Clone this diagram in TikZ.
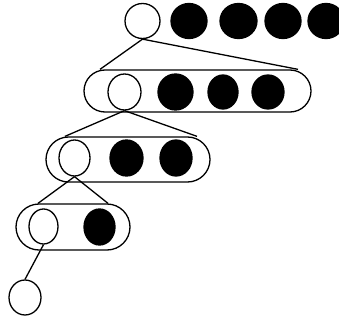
\documentclass[tikz,border=0pt]{standalone}
\usetikzlibrary{shapes.geometric,shapes.misc,calc}
\begin{document}
\begin{tikzpicture}[x=1pt,y=-1pt,line width=1.3pt,
  open/.style={draw,ellipse,inner sep=0pt,minimum width=#1},
  full/.style={draw,fill=black,ellipse,inner sep=0pt,minimum width=#1},
  pill/.style={draw,rounded rectangle,inner sep=0pt}]
\useasboundingbox (0,0) rectangle (339,320);
% row 1
\node[open=35pt,minimum height=35pt] (c1) at (142.5,21) {};
\node[full=36pt,minimum height=35pt] (f11) at (189,21) {};
\node[full=37pt,minimum height=35pt] (f12) at (238.5,21) {};
\node[full=36pt,minimum height=35pt] (f13) at (283,21) {};
\node[full=36pt,minimum height=35pt] (f14) at (326,21) {};
% row 2
\node[pill,minimum width=227pt,minimum height=42pt] (s2) at (197.5,91) {};
\node[open=33pt,minimum height=36pt] (c2) at (124.5,92) {};
\node[full=35pt,minimum height=36pt] (f21) at (175.5,92) {};
\node[full=30pt,minimum height=34pt] (f22) at (223,92) {};
\node[full=32pt,minimum height=34pt] (f23) at (268,92) {};
% row 3
\node[pill,minimum width=164pt,minimum height=45pt] (s3) at (128,159.5) {};
\node[open=31pt,minimum height=36pt] (c3) at (74.5,158) {};
\node[full=33pt,minimum height=36pt] (f31) at (126.5,158) {};
\node[full=32pt,minimum height=36pt] (f32) at (176,158) {};
% row 4
\node[pill,minimum width=114pt,minimum height=46pt] (s4) at (73,227) {};
\node[open=29pt,minimum height=35pt] (c4) at (43.5,226.5) {};
\node[full=31pt,minimum height=36pt] (f41) at (99.5,227) {};
% bottom
\node[open=32pt,minimum height=35pt] (c5) at (25,297.5) {};
% connectors
\coordinate (s2l) at ($(s2.north)+(-97.5,0)$);
\coordinate (s2r) at ($(s2.north)+(100.5,0)$);
\coordinate (s3l) at ($(s3.north)+(-63,0)$);
\coordinate (s3r) at ($(s3.north)+(69,0)$);
\coordinate (s4l) at ($(s4.north)+(-35,0)$);
\coordinate (s4r) at ($(s4.north)+(35,0)$);
\draw (c1.south) -- (s2l);
\draw (c1.south) -- (s2r);
\draw (c2.south) -- (s3l);
\draw (c2.south) -- (s3r);
\draw (c3.south) -- (s4l);
\draw (c3.south) -- (s4r);
\draw (c4.south) -- (c5.north);
\end{tikzpicture}
\end{document}
